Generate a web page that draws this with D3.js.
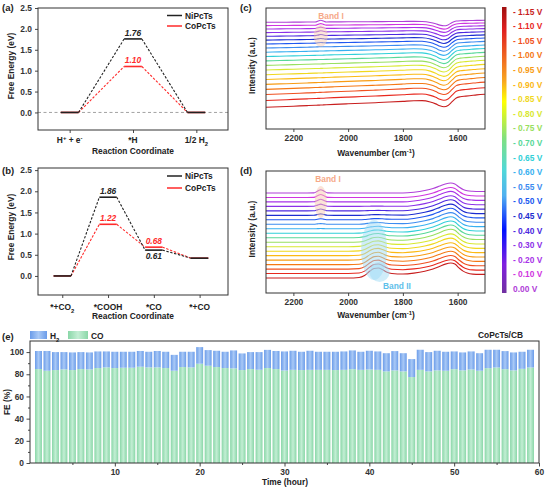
<!DOCTYPE html>
<html>
<head>
<meta charset="utf-8">
<script src="https://cdn.jsdelivr.net/npm/d3@7"></script>
<style>
  body { margin: 0; background: #fff; }
  svg text { font-family: "Liberation Sans", Arial, sans-serif; font-weight: bold; }
</style>
</head>
<body>
<svg id="fig" width="546" height="487"></svg>
<script>
// ---- data ----
// (a) HER free energy
var herSteps = [1, 2, 3];
var herLabels = [[["H"], ["+", "sup"], [" + e"], ["-", "sup"]], [["*H"]], [["1/2 H"], ["2", "sub"]]];
var herNi = [0, 1.76, 0];
var herCo = [0, 1.10, 0];

// (b) CO2RR free energy
var co2Steps = [1, 2, 3, 4];
var co2Labels = [[["*+CO"], ["2", "sub"]], [["*COOH"]], [["*CO"]], [["*+CO"]]];
var co2Ni = [0, 1.86, 0.61, 0.42];
var co2Co = [0, 1.22, 0.68, 0.42];
var energyTicks = [0, 0.5, 1.0, 1.5, 2.0, 2.5];

// potentials, top curve (0.00 V) first
var potentials = ["0.00 V", "- 0.10 V", "- 0.20 V", "- 0.30 V", "- 0.40 V", "- 0.45 V", "- 0.50 V", "- 0.55 V",
  "- 0.60 V", "- 0.65 V", "- 0.70 V", "- 0.75 V", "- 0.80 V", "- 0.85 V", "- 0.90 V", "- 0.95 V",
  "- 1.00 V", "- 1.05 V", "- 1.10 V", "- 1.15 V"];
var potentialColors = ["#b040d8", "#d034e0", "#a832e8", "#8c30e8", "#4c28e0", "#1c2cd0", "#2058f0", "#3c8cf0",
  "#38b0f0", "#30d0d8", "#58d898", "#98e060", "#d8e830", "#f0d81e", "#fbb914", "#f89c14",
  "#f57814", "#f05020", "#e8281e", "#c81e1e"];

// (c) spectra: wavenumber grid, feature profiles, per-curve amplitudes
var cWave = [2300, 2250, 2200, 2150, 2120, 2110, 2100, 2090, 2080, 2050, 2000, 1950, 1900, 1850, 1800, 1760, 1730, 1700, 1680, 1665, 1650, 1635, 1620, 1605, 1590, 1570, 1550, 1530, 1500];
var cTilt = [0, 0.08, 0.16, 0.24, 0.29, 0.31, 0.32, 0.34, 0.36, 0.42, 0.5, 0.58, 0.66, 0.75, 0.85, 0.94, 1, 1, 1, 1, 1, 1, 1, 1, 1, 1, 1, 1, 1];
var cBand1 = [0, 0, 0, 0, 0, 0.5, 1, 0.5, 0, 0, 0, 0, 0, 0, 0, 0, 0, 0, 0, 0, 0, 0, 0, 0, 0, 0, 0, 0, 0];
var cDip = [0, 0, 0, 0, 0, 0, 0, 0, 0, 0, 0, 0, 0, 0, 0, 0, 0.05, 0.25, 0.55, 0.85, 1, 0.8, 0.3, 0.05, 0, 0, 0, 0, 0];
var cRise = [0, 0, 0, 0, 0, 0, 0, 0, 0, 0, 0, 0, 0, 0, 0, 0, 0, 0, 0, 0, 0, 0, 0.1, 0.45, 0.6, 0.7, 0.8, 0.9, 1];
var cOffset = [106.7, 103.4, 100.0, 96.4, 92.7, 88.9, 85.0, 81.0, 76.8, 72.5, 68.1, 63.6, 59.0, 54.3, 49.5, 44.6, 39.6, 34.5, 28.5, 21.7];
var cTiltAmp = [1, 1.3, 1.6, 2, 2.3, 2.6, 3, 3.3, 3.6, 4, 4.3, 4.6, 5, 5.3, 5.6, 6, 6.3, 6.6, 6.8, 7];
var cBand1Amp = [1.8, 1.6, 1.4, 1.2, 1.0, 0.8, 0.5, 0.3, 0, 0, 0, 0, 0, 0, 0, 0, 0, 0, 0, 0];
var cDipAmp = [4.5, 4.8, 5, 5.5, 5.8, 6, 6.3, 6.5, 6.8, 7, 7, 7, 7, 7, 6.8, 6.8, 6.7, 6.6, 6.6, 6.5];
var cRiseAmp = [1, 1.3, 1.6, 2, 2.3, 2.6, 3, 3.3, 3.6, 4, 4.2, 4.5, 4.8, 5, 5.2, 5.4, 5.6, 5.8, 6, 6];

// (d) spectra
var dWave = [2300, 2250, 2200, 2150, 2125, 2112, 2100, 2088, 2075, 2050, 2000, 1960, 1940, 1920, 1905, 1890, 1875, 1860, 1840, 1800, 1760, 1720, 1690, 1665, 1645, 1625, 1610, 1595, 1580, 1565, 1545, 1520, 1500];
var dBand1 = [0, 0, 0, 0, 0.05, 0.55, 1, 0.55, 0.05, 0, 0, 0, 0, 0, 0, 0, 0, 0, 0, 0, 0, 0, 0, 0, 0, 0, 0, 0, 0, 0, 0, 0, 0];
var dBand2 = [0, 0, 0, 0, 0, 0, 0, 0, 0, 0, 0, 0.05, 0.25, 0.7, 0.95, 1, 0.85, 0.6, 0.45, 0.4, 0.4, 0.4, 0.4, 0.4, 0.4, 0.4, 0.4, 0.35, 0.3, 0.25, 0.2, 0.2, 0.2];
var dBand3 = [0, 0, 0, 0, 0, 0, 0, 0, 0, 0, 0, 0, 0, 0, 0, 0, 0, 0, 0, 0, 0.08, 0.25, 0.45, 0.7, 0.9, 1, 0.9, 0.6, 0.35, 0.22, 0.17, 0.15, 0.15];
var dOffset = [100, 95.5, 91.1, 86.6, 82.1, 77.6, 73.2, 68.7, 64.2, 59.7, 55.3, 50.8, 46.3, 41.8, 37.4, 32.9, 28.4, 23.9, 19.5, 15];
var dBand1Amp = [3.3, 3.0, 2.7, 2.3, 1.9, 1.5, 1.1, 0.7, 0.3, 0, 0, 0, 0, 0, 0, 0, 0, 0, 0, 0];
var dBand2Amp = [0, 0, 0, 0.3, 0.5, 0.8, 1.2, 1.8, 2.5, 3.3, 4.2, 5, 5.8, 6.5, 7.2, 7.8, 8.4, 9, 9.5, 10];
var dBand3Amp = [10, 10, 10.5, 10.5, 11, 11, 11, 11, 11, 11, 11, 11, 10.5, 10.5, 10, 10, 10, 10, 10, 11];
var waveTicks = [2200, 2000, 1800, 1600];

// (e) stability test
var hours = [1, 2, 3, 4, 5, 6, 7, 8, 9, 10, 11, 12, 13, 14, 15, 16, 17, 18, 19, 20, 21, 22, 23, 24, 25, 26, 27, 28, 29, 30,
  31, 32, 33, 34, 35, 36, 37, 38, 39, 40, 41, 42, 43, 44, 45, 46, 47, 48, 49, 50, 51, 52, 53, 54, 55, 56, 57, 58, 59];
var feCO = [84.7, 83.2, 83.8, 84.4, 83.8, 84.7, 84.4, 85.6, 86.2, 85.6, 85.9, 85.9, 86.8, 86.2, 86.2, 85.6, 83.2, 86.5, 86.2, 89.5,
  87.7, 86.5, 85.6, 85.3, 83.8, 84.7, 84.1, 85.6, 84.7, 83.4, 84.0, 83.8, 84.0, 84.0, 84.0, 83.8, 84.0, 84.6, 84.0, 84.3,
  84.0, 82.6, 83.5, 82.6, 77.5, 84.0, 82.6, 83.5, 83.2, 84.6, 83.5, 84.3, 83.2, 85.5, 86.1, 84.6, 83.5, 84.9, 86.1];
var feH2 = [16.3, 17.8, 16.2, 15.6, 15.9, 15.3, 15.3, 15.0, 14.4, 14.7, 14.4, 14.4, 14.2, 14.1, 14.8, 14.7, 14.3, 13.8, 14.1, 15.0,
  14.1, 14.7, 14.7, 16.2, 15.0, 15.3, 15.9, 16.4, 16.3, 17.2, 17.2, 16.5, 17.2, 16.3, 16.3, 16.5, 16.6, 16.9, 16.3, 16.9,
  16.6, 16.4, 17.4, 16.4, 16.2, 18.1, 17.4, 17.7, 17.1, 16.0, 16.2, 16.3, 15.8, 16.6, 16.0, 16.3, 16.2, 15.4, 16.0];
var feTicks = [0, 20, 40, 60, 80, 100];
var hourTicks = [10, 20, 30, 40, 50, 60];

// ---- drawing ----
var FONT = 8.4;
var svg = d3.select("#fig");
svg.append("rect").attr("width", 546).attr("height", 487).attr("fill", "#fff");
var defs = svg.append("defs");

function richText(t, parts) {
  parts.forEach(function (p) {
    var s = t.append("tspan").text(p[0]);
    if (p[1] === "sup") s.attr("baseline-shift", "super").attr("font-size", FONT * 0.7);
    if (p[1] === "sub") s.attr("baseline-shift", "sub").attr("font-size", FONT * 0.7);
  });
}

function label(x, y, txt, size, color, anchor) {
  return svg.append("text").attr("x", x).attr("y", y).text(txt)
    .attr("font-size", size || FONT).style("fill", color || "#222")
    .attr("text-anchor", anchor || "start");
}

function vLabel(x, y, txt) {
  svg.append("text").attr("transform", "translate(" + x + "," + y + ") rotate(-90)")
    .attr("text-anchor", "middle").attr("dy", "0.35em").attr("font-size", FONT).style("fill", "#222").text(txt);
}

function styleAxis(g) {
  g.attr("font-family", null).attr("font-size", FONT).attr("color", "#333");
  g.select(".domain").remove();
  g.selectAll("line").attr("stroke-width", 0.9);
}

function box(l, t, r, b) {
  svg.append("rect").attr("x", l).attr("y", t).attr("width", r - l).attr("height", b - t)
    .attr("fill", "none").attr("stroke", "#333").attr("stroke-width", 1);
}

function drawEnergy(cfg) {
  var x = d3.scaleLinear().domain(cfg.xDomain).range([38, 228]);
  var y = d3.scaleLinear().domain(cfg.yDomain).range([cfg.bottom, cfg.top]);
  var hw = cfg.halfWidth;

  if (cfg.zeroLine) {
    svg.append("line").attr("x1", 38).attr("x2", 228).attr("y1", y(0)).attr("y2", y(0))
      .attr("stroke", "#999").attr("stroke-width", 0.9).attr("stroke-dasharray", "3,2.5");
  }

  // red first so black level segments sit on top where they overlap
  [{ vals: cfg.co, color: "#ff2a2a" }, { vals: cfg.ni, color: "#222" }].forEach(function (s) {
    s.vals.forEach(function (v, i) {
      var xs = cfg.steps[i];
      svg.append("line").attr("x1", x(xs - hw)).attr("x2", x(xs + hw)).attr("y1", y(v)).attr("y2", y(v))
        .attr("stroke", s.color).attr("stroke-width", 1.6);
      if (i < s.vals.length - 1) {
        svg.append("line").attr("x1", x(xs + hw)).attr("y1", y(v))
          .attr("x2", x(cfg.steps[i + 1] - hw)).attr("y2", y(s.vals[i + 1]))
          .attr("stroke", s.color).attr("stroke-width", 1.1).attr("stroke-dasharray", "2.4,1.6");
      }
    });
  });

  box(38, cfg.top, 228, cfg.bottom);

  svg.append("g").attr("transform", "translate(0," + cfg.bottom + ")")
    .call(d3.axisBottom(x).tickValues(cfg.steps).tickSize(3).tickFormat(""))
    .call(styleAxis);
  svg.append("g").attr("transform", "translate(38,0)")
    .call(d3.axisLeft(y).tickValues(energyTicks).tickSize(3).tickPadding(3).tickFormat(d3.format(".1f")))
    .call(styleAxis);

  cfg.labels.forEach(function (parts, i) {
    var t = svg.append("text").attr("x", x(cfg.steps[i])).attr("y", cfg.bottom + cfg.tickGap)
      .attr("text-anchor", "middle").attr("font-size", FONT).style("fill", "#222");
    richText(t, parts);
  });

  // value annotations
  cfg.notes.forEach(function (n) {
    label(x(cfg.steps[n.step]), y(n.value) + n.dy, n.value.toFixed(2), FONT, n.color, "middle")
      .attr("font-style", "italic");
  });

  // legend
  [["NiPcTs", "#222"], ["CoPcTs", "#ff2a2a"]].forEach(function (d, i) {
    var ly = cfg.legendY + i * cfg.legendGap;
    svg.append("line").attr("x1", 167).attr("x2", 182).attr("y1", ly).attr("y2", ly)
      .attr("stroke", d[1]).attr("stroke-width", 1.5);
    label(185, ly + 3, d[0], FONT, "#222");
  });

  label(133, cfg.bottom + cfg.titleGap, "Reaction Coordinate", FONT, "#222", "middle");
  vLabel(11, cfg.yLabelY, "Free Energy (eV)");
}

drawEnergy({
  steps: herSteps, labels: herLabels, ni: herNi, co: herCo,
  xDomain: [0.5, 3.5], yDomain: [-0.42, 2.5], top: 8, bottom: 130, halfWidth: 0.14,
  zeroLine: true, tickGap: 12.5, titleGap: 24, yLabelY: 66, legendY: 15.5, legendGap: 10.5,
  notes: [{ step: 1, value: 1.76, dy: -3, color: "#222" }, { step: 1, value: 1.10, dy: -3, color: "#ff2a2a" }]
});

drawEnergy({
  steps: co2Steps, labels: co2Labels, ni: co2Ni, co: co2Co,
  xDomain: [0.47, 4.62], yDomain: [-0.45, 2.55], top: 168, bottom: 295, halfWidth: 0.19,
  zeroLine: false, tickGap: 15, titleGap: 23.5, yLabelY: 227, legendY: 176, legendGap: 12,
  notes: [{ step: 1, value: 1.86, dy: -3, color: "#222" }, { step: 1, value: 1.22, dy: -3, color: "#ff2a2a" },
    { step: 2, value: 0.68, dy: -3, color: "#ff2a2a" }, { step: 2, value: 0.61, dy: 9, color: "#222" }]
});

function drawSpectra(cfg) {
  var x = d3.scaleLinear().domain([2300, 1500]).range([266, 485]);
  var y = d3.scaleLinear().domain([0, cfg.bottom - cfg.top]).range([cfg.bottom, cfg.top]);
  var line = d3.line().x(function (d) { return x(d[0]); }).y(function (d) { return y(d[1]); })
    .curve(d3.curveMonotoneX);

  for (var i = cfg.offset.length - 1; i >= 0; i--) {
    var pts = cfg.wave.map(function (w, j) {
      var v = cfg.offset[i];
      cfg.parts.forEach(function (p) { v += p.sign * p.amp[i] * p.shape[j]; });
      return [w, v];
    });
    svg.append("path").datum(pts).attr("d", line).attr("fill", "none")
      .attr("stroke", potentialColors[i]).attr("stroke-width", 1.1);
  }

  // band highlights sit over the curves, semi-transparent
  cfg.bands.forEach(function (b) {
    b.blobs.forEach(function (e) {
      svg.append("ellipse").attr("cx", x(e[0])).attr("cy", e[1]).attr("rx", e[2]).attr("ry", e[3])
        .attr("fill", b.color).attr("opacity", 0.5);
    });
    label(b.lx, b.ly, b.text, FONT, b.textColor, "middle");
  });

  box(266, cfg.top, 485, cfg.bottom);
  svg.append("g").attr("transform", "translate(0," + cfg.bottom + ")")
    .call(d3.axisBottom(x).tickValues(waveTicks).tickSize(3).tickPadding(3).tickFormat(d3.format("d")))
    .call(styleAxis);

  var t = svg.append("text").attr("x", 376).attr("y", cfg.bottom + cfg.titleGap).attr("text-anchor", "middle")
    .attr("font-size", FONT).style("fill", "#222");
  richText(t, [["Wavenumber (cm"], ["-1", "sup"], [")"]]);
  vLabel(252, (cfg.top + cfg.bottom) / 2 - 3, "Intensity (a.u.)");
}

drawSpectra({
  top: 8, bottom: 129, wave: cWave, offset: cOffset, titleGap: 27,
  parts: [{ shape: cTilt, amp: cTiltAmp, sign: 1 }, { shape: cBand1, amp: cBand1Amp, sign: 1 },
    { shape: cDip, amp: cDipAmp, sign: -1 }, { shape: cRise, amp: cRiseAmp, sign: 1 }],
  bands: [{ blobs: [[2100, 36, 7, 11]], color: "#f9cdb4", text: "Band I", textColor: "#f6a988", lx: 331, ly: 18.5 }]
});

drawSpectra({
  top: 171, bottom: 293, wave: dWave, offset: dOffset, titleGap: 25,
  parts: [{ shape: dBand1, amp: dBand1Amp, sign: 1 }, { shape: dBand2, amp: dBand2Amp, sign: 1 },
    { shape: dBand3, amp: dBand3Amp, sign: 1 }],
  bands: [{ blobs: [[2100, 202, 6, 16]], color: "#f7c9b0", text: "Band I", textColor: "#f6a988", lx: 328, ly: 182 },
    { blobs: [[1905, 250, 13, 30], [1885, 272, 10, 10]], color: "#9fdcf5", text: "Band II", textColor: "#5ec0ea", lx: 397, ly: 289 }]
});

// panel letters
label(2, 11, "(a)", 9.5);
label(2, 174, "(b)", 9.5);
label(240, 11, "(c)", 9.5);
label(240, 174, "(d)", 9.5);
label(2, 340, "(e)", 9.5);

// colour bar
var cbGrad = defs.append("linearGradient").attr("id", "cbar").attr("x1", 0).attr("x2", 0).attr("y1", 0).attr("y2", 1);
[[0, "#a01010"], [0.08, "#e02020"], [0.18, "#f06a20"], [0.26, "#f8a820"], [0.33, "#ffff00"], [0.46, "#80e080"],
  [0.57, "#50d8d8"], [0.66, "#50b0f0"], [0.78, "#0010ff"], [0.9, "#8020e0"], [1, "#7030a0"]].forEach(function (s) {
  cbGrad.append("stop").attr("offset", s[0]).attr("stop-color", s[1]);
});
svg.append("rect").attr("x", 502).attr("y", 7).attr("width", 4.5).attr("height", 286).attr("fill", "url(#cbar)");
var cbY = d3.scalePoint().domain(d3.range(potentials.length)).range([11.7, 289]);
potentials.slice().reverse().forEach(function (p, k) {
  label(513, cbY(k) + 3, p, FONT, potentialColors[potentials.length - 1 - k]);
});

// (e) bars
function barGrad(id, edge, mid) {
  var g = defs.append("linearGradient").attr("id", id).attr("x1", 0).attr("x2", 1).attr("y1", 0).attr("y2", 0);
  g.append("stop").attr("offset", 0).attr("stop-color", edge);
  g.append("stop").attr("offset", 0.5).attr("stop-color", mid);
  g.append("stop").attr("offset", 1).attr("stop-color", edge);
}
barGrad("gH2", "#6b9ce9", "#a9c9f6");
barGrad("gCO", "#8ad7a8", "#c3eed4");

var ex = d3.scaleLinear().domain([0, 60]).range([30, 539]);
var ey = d3.scaleLinear().domain([0, 110]).range([463, 341]);
var bw = ex(0.82) - ex(0);

hours.forEach(function (h, i) {
  svg.append("rect").attr("x", ex(h) - bw / 2).attr("width", bw)
    .attr("y", ey(feCO[i])).attr("height", ey(0) - ey(feCO[i])).attr("fill", "url(#gCO)");
  svg.append("rect").attr("x", ex(h) - bw / 2).attr("width", bw)
    .attr("y", ey(feCO[i] + feH2[i])).attr("height", ey(feCO[i]) - ey(feCO[i] + feH2[i])).attr("fill", "url(#gH2)");
});

box(30, 341, 539, 463);
svg.append("g").attr("transform", "translate(0,463)")
  .call(d3.axisBottom(ex).tickValues([5, 15, 25, 35, 45, 55]).tickSize(2).tickFormat(""))
  .call(styleAxis);
svg.append("g").attr("transform", "translate(0,463)")
  .call(d3.axisBottom(ex).tickValues(hourTicks).tickSize(3.5).tickPadding(2.5).tickFormat(d3.format("d")))
  .call(styleAxis);
svg.append("g").attr("transform", "translate(30,0)")
  .call(d3.axisLeft(ey).tickValues([10, 30, 50, 70, 90]).tickSize(2).tickFormat(""))
  .call(styleAxis);
svg.append("g").attr("transform", "translate(30,0)")
  .call(d3.axisLeft(ey).tickValues(feTicks).tickSize(3.5).tickPadding(2.5).tickFormat(d3.format("d")))
  .call(styleAxis);

label(285, 485, "Time (hour)", FONT, "#222", "middle");
vLabel(7, 402, "FE (%)");
label(523, 338, "CoPcTs/CB", FONT, "#222", "end");

// (e) legend
svg.append("rect").attr("x", 30).attr("y", 331).attr("width", 17).attr("height", 8).attr("fill", "url(#gH2)");
var lt = svg.append("text").attr("x", 50).attr("y", 338.5).attr("font-size", FONT).style("fill", "#222");
richText(lt, [["H"], ["2", "sub"]]);
svg.append("rect").attr("x", 68).attr("y", 331).attr("width", 20).attr("height", 8).attr("fill", "url(#gCO)");
label(91, 338.5, "CO");
</script>
</body>
</html>
